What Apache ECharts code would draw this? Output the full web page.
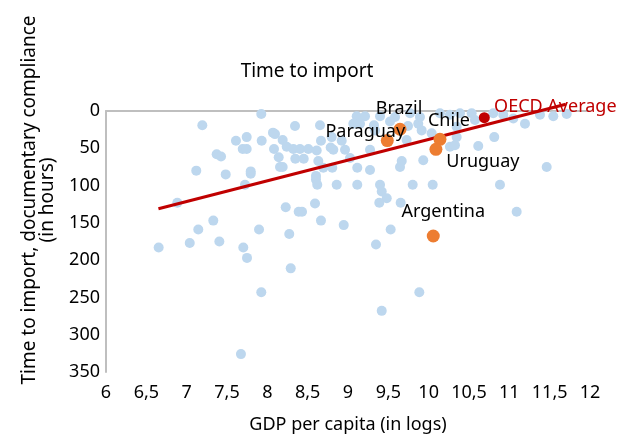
<!DOCTYPE html>
<html>
<head>
<meta charset="utf-8">
<script src="https://cdn.jsdelivr.net/npm/echarts@6/dist/echarts.min.js"></script>
<style>
  html, body { margin: 0; padding: 0; background: #fff; }
  #chart { width: 637px; height: 436px; }
</style>
</head>
<body>
<div id="chart"></div>
<script>
// Countries: log GDP per capita vs. hours for import documentary compliance
const gdpLog = [
  7.925, 7.194, 8.343, 8.653, 7.611, 7.744, 7.930, 8.070, 8.095, 8.190,
  8.240, 8.322, 8.405, 8.508, 8.612, 8.665, 8.785, 8.922, 7.695, 7.744,
  7.372, 7.426, 8.083, 8.141, 8.347, 8.451, 8.632, 8.694, 8.805, 8.157,
  8.190, 7.119, 7.794, 7.794, 7.484, 8.603, 8.603, 8.619, 8.860, 9.115,
  9.025, 9.115, 7.723, 6.884, 8.228, 8.389, 8.430, 8.591, 7.330, 8.665,
  8.947, 7.144, 7.897, 8.272, 6.653, 7.038, 7.405, 7.702, 7.748, 8.290,
  7.925, 7.673, 9.529, 9.347, 9.884, 9.418, 9.273, 9.397, 9.418, 9.480,
  9.388, 9.653, 9.802, 10.050, 10.884, 11.091, 11.463, 9.645, 9.666, 9.933,
  10.615, 10.813, 10.264, 10.326, 10.347, 9.727, 8.818, 8.963, 9.273, 8.798,
  9.108, 9.211, 9.066, 9.149, 9.521, 9.583, 9.871, 9.913, 10.037, 9.892,
  10.264, 10.388, 10.533, 10.574, 10.801, 10.925, 11.049, 11.194, 11.380, 11.545,
  11.711, 9.397, 9.769, 10.140, 10.347, 9.322, 9.744, 9.335
];
const importHours = [
  4, 19, 20, 19, 40, 35, 40, 29, 31, 39,
  48, 51, 51, 51, 53, 40, 49, 40, 51, 51,
  58, 61, 51, 62, 64, 64, 67, 76, 76, 75,
  75, 80, 81, 84, 85, 87, 92, 99, 99, 76,
  63, 99, 99, 123, 129, 135, 135, 124, 147, 147,
  153, 159, 159, 165, 183, 177, 175, 183, 197, 211,
  243, 326, 159, 179, 243, 268, 79, 99, 108, 117,
  123, 123, 99, 99, 99, 135, 75, 75, 67, 66,
  47, 35, 48, 46, 35, 39, 52, 52, 52, 35,
  7, 7, 17, 17, 14, 8, 17, 26, 30, 8,
  5, 3, 3, 12, 3, 5, 10, 17, 5, 7,
  4, 7, 3, 3, 21, 19, 20, 26
];

// Highlighted Latin American countries
const countryNames = ['Brazil', 'Paraguay', 'Chile', 'Uruguay', 'Argentina'];
const countryGdp = [9.645, 9.487, 10.140, 10.090, 10.057];
const countryHours = [24.5, 39.6, 38.0, 51.4, 167.6];

// OECD average
const oecdName = 'OECD Average';
const oecdGdp = [10.690];
const oecdHours = [9.0];

// Fitted trend line endpoints
const trendGdp = [6.65, 11.70];
const trendHours = [131, -9];

const xTicks = ['6', '6,5', '7', '7,5', '8', '8,5', '9', '9,5', '10', '10,5', '11', '11,5', '12'];

const labelOffsets = {
  'Brazil': [-1, -20],
  'Paraguay': [-22, -9],
  'Chile': [9, -18],
  'Uruguay': [47, 13],
  'Argentina': [10, -24]
};

const FONT = 'Noto Sans';
const chart = echarts.init(document.getElementById('chart'), null, { renderer: 'canvas' });

const otherPts = gdpLog.map((g, i) => [g, importHours[i]]);
const countryPts = countryGdp.map((g, i) => ({
  name: countryNames[i],
  value: [g, countryHours[i]],
  label: { offset: labelOffsets[countryNames[i]] }
}));
const oecdPts = oecdGdp.map((g, i) => ({ name: oecdName, value: [g, oecdHours[i]] }));
const trendPts = trendGdp.map((g, i) => [g, trendHours[i]]);

chart.setOption({
  animation: false,
  backgroundColor: '#ffffff',
  textStyle: { fontFamily: FONT },
  title: {
    text: 'Time to import',
    left: 302, top: 57,
    textAlign: 'center',
    textStyle: { fontFamily: FONT, fontSize: 19, fontWeight: 'normal', color: '#000' }
  },
  grid: {
    left: 106, right: 47, top: 111, bottom: 64,
    containLabel: false, outerBoundsMode: 'none'
  },
  xAxis: {
    type: 'value', min: 6, max: 12, interval: 0.5,
    splitLine: { show: false },
    axisTick: { show: false },
    axisLine: { lineStyle: { color: '#bfbfbf', width: 2 } },
    axisLabel: {
      margin: 12, fontSize: 18, color: '#000', fontFamily: FONT,
      formatter: v => xTicks[Math.round((v - 6) / 0.5)]
    },
    name: 'GDP per capita (in logs)',
    nameLocation: 'middle', nameGap: 44,
    nameTextStyle: { fontSize: 18, color: '#000', fontFamily: FONT }
  },
  yAxis: {
    type: 'value', min: 0, max: 350, interval: 50, inverse: true,
    splitLine: { show: false },
    axisTick: { show: false },
    axisLine: { lineStyle: { color: '#bfbfbf', width: 2 } },
    axisLabel: { margin: 6, fontSize: 18, color: '#000', fontFamily: FONT }
  },
  graphic: [{
    type: 'text',
    x: 39, y: 200,
    rotation: Math.PI / 2,
    style: {
      text: 'Time to import, documentary compliance\n(in hours)',
      align: 'center', verticalAlign: 'middle',
      font: '19px "Noto Sans"', lineHeight: 18, fill: '#000'
    }
  }],
  series: [
    {
      type: 'scatter', data: otherPts, symbolSize: 10,
      itemStyle: { color: '#bdd7ee', opacity: 1 }, z: 2
    },
    {
      type: 'line', data: trendPts, showSymbol: false, clip: false,
      lineStyle: { color: '#c00000', width: 3 }, z: 3
    },
    {
      type: 'scatter', data: countryPts, symbolSize: 13,
      itemStyle: { color: '#ed7d31', opacity: 1 }, z: 4,
      label: {
        show: true, position: 'inside', formatter: '{b}',
        fontSize: 18, color: '#000', fontFamily: FONT
      }
    },
    {
      type: 'scatter', data: oecdPts, symbolSize: 11,
      itemStyle: { color: '#c00000', opacity: 1 }, z: 4,
      label: {
        show: true, position: 'inside', formatter: '{b}', offset: [71, -11],
        fontSize: 18, color: '#c00000', fontFamily: FONT
      }
    }
  ]
});
</script>
</body>
</html>
